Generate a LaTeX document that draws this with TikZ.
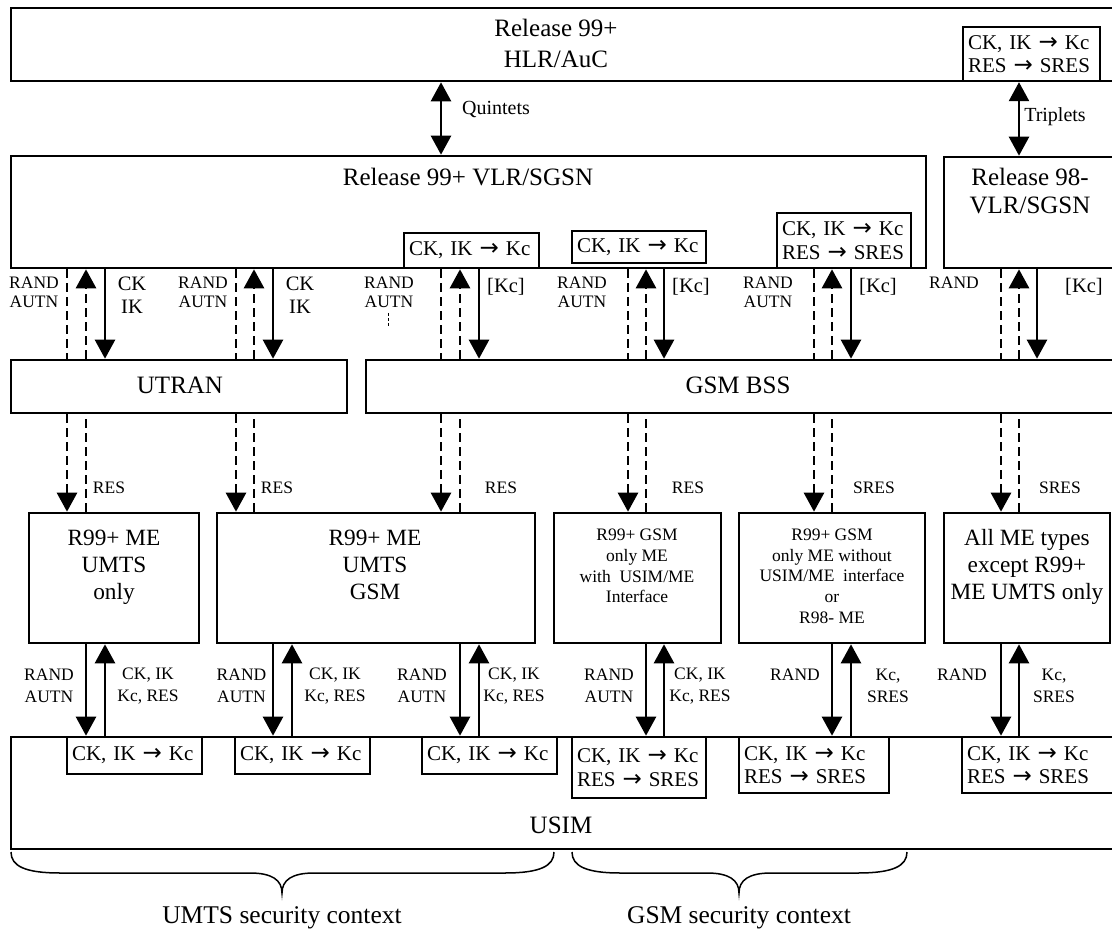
\documentclass[tikz,border=0pt]{standalone}
\usepackage{fontspec}
\setmainfont{Liberation Serif}
\newfontfamily\myarrowfont{DejaVu Sans}
\newcommand\myarr{{\myarrowfont\fontsize{23}{23}\selectfont →}}
\usetikzlibrary{arrows.meta}
\begin{document}
\begin{tikzpicture}[x=1pt,y=-1pt,
  box/.style={draw, line width=2.6pt, inner sep=0pt},
  sbox/.style={draw, line width=2.4pt, inner sep=5pt, align=left, font=\fontsize{21}{23.5}\selectfont},
  big/.style={inner sep=0pt, align=center, font=\fontsize{25}{31}\selectfont},
  metxt/.style={inner sep=0pt, align=center, font=\fontsize{23.3}{27}\selectfont},
  smtxt/.style={inner sep=0pt, align=center, font=\fontsize{17.5}{20.7}\selectfont},
  lab/.style={inner sep=0pt, align=center, font=\fontsize{17.5}{19}\selectfont},
  blab/.style={inner sep=0pt, align=center, font=\fontsize{17.5}{22}\selectfont},
  mid/.style={inner sep=0pt, align=center, font=\fontsize{20.5}{23}\selectfont},
  tipA/.style={-{Triangle[length=19pt,width=20pt]}},
  sol/.style={line width=2.5pt},
  dsh/.style={line width=2.7pt, dash pattern=on 9pt off 5pt},
  brace/.style={line width=1.5pt}
]
\useasboundingbox (0,0) rectangle (1112,936);

\foreach \x in {67,86,105,236,254,273,292,441,460,479,628,646,664,814,832,851,1001,1019,1037}
  \coordinate (c\x) at (\x,0);

% ---- main boxes (right-hand boxes run past the page edge, as in the reference)
\node[box, minimum width=1114pt, minimum height=73pt] (hlr) at (568,44.5) {};
\node[box, minimum width=915pt, minimum height=112pt] (vlr) at (468.5,212) {};
\node[box, minimum width=181pt, minimum height=111pt] (r98) at (1034.5,212.5) {};
\node[box, minimum width=336pt, minimum height=53pt] (utran) at (179,386.5) {};
\node[box, minimum width=759pt, minimum height=53pt] (bss) at (745.5,386.5) {};
\node[box, minimum width=170pt, minimum height=130pt] (me1) at (114,578) {};
\node[box, minimum width=318pt, minimum height=130pt] (me2) at (376,578) {};
\node[box, minimum width=167pt, minimum height=130pt] (me3) at (637.5,578) {};
\node[box, minimum width=186pt, minimum height=130pt] (me4) at (832,578) {};
\node[box, minimum width=166pt, minimum height=130pt] (me5) at (1027,578) {};
\node[box, minimum width=1114pt, minimum height=112pt] (usim) at (568,793) {};

% ---- small conversion boxes
\node[sbox, text width=127pt, minimum height=54pt] (hlrk) at (1031.5,54) {CK, IK \myarr{} Kc\\RES \myarr{} SRES};
\node[sbox, text width=125pt, minimum height=35pt] (vk1) at (471.5,250.5) {CK, IK \myarr{} Kc};
\node[sbox, text width=124pt, minimum height=32pt] (vk2) at (639,247) {CK, IK \myarr{} Kc};
\node[sbox, text width=124pt, minimum height=55pt] (vk3) at (844,240.5) {CK, IK \myarr{} Kc\\RES \myarr{} SRES};
\node[sbox, text width=125pt, minimum height=37pt] (s1) at (134.5,755.5) {CK, IK \myarr{} Kc};
\node[sbox, text width=125pt, minimum height=37pt] (s2) at (302.5,755.5) {CK, IK \myarr{} Kc};
\node[sbox, text width=125pt, minimum height=37pt] (s3) at (489.5,755.5) {CK, IK \myarr{} Kc};
\node[sbox, text width=124pt, minimum height=61pt] (s4) at (639,767.5) {CK, IK \myarr{} Kc\\RES \myarr{} SRES};
\node[sbox, text width=140pt, minimum height=56pt] (s5) at (814,765) {CK, IK \myarr{} Kc\\RES \myarr{} SRES};
\node[sbox, text width=153pt, minimum height=56pt] (s6) at (1043.5,765) {CK, IK \myarr{} Kc\\RES \myarr{} SRES};

% ---- box texts
\node[big] (thlr) at (556,43) {Release 99+\\HLR/AuC};
\node[big] (tvlr) at (468,177) {Release 99+ VLR/SGSN};
\node[big, font=\fontsize{25}{28}\selectfont] (tr98) at (1030,191) {Release 98-\\VLR/SGSN};
\node[big] (tutran) at (180,385) {UTRAN};
\node[big] (tbss) at (738,385) {GSM BSS};
\node[big] (tusim) at (561,825) {USIM};
\node[metxt] (tme1) at (114,567) {R99+ ME\\UMTS\\only};
\node[metxt] (tme2) at (375,565) {R99+ ME\\UMTS\\GSM};
\node[smtxt] (tme3) at (637,566) {R99+ GSM\\only ME\\with~~USIM/ME\\Interface};
\node[smtxt] (tme4) at (832,576) {R99+ GSM\\only ME without\\USIM/ME~~interface\\or\\R98- ME};
\node[metxt] (tme5) at (1027,567) {All ME types\\except R99+\\ME UMTS only};

% ---- HLR links
\draw[sol, {Triangle[length=19pt,width=20pt]}-{Triangle[length=19pt,width=20pt]}] (hlr.south -| c441) -- (vlr.north -| c441);
\node[mid, font=\fontsize{20}{23}\selectfont] (lq) at (496,110) {Quintets};
\draw[sol, {Triangle[length=19pt,width=20pt]}-{Triangle[length=19pt,width=20pt]}] (hlrk.south -| c1019) -- (r98.north -| c1019);
\node[mid, font=\fontsize{20}{23}\selectfont] (lt) at (1055,117) {Triplets};

% ---- VLR -> access network
\draw[dsh] (vlr.south -| c67) -- (utran.north -| c67);
\draw[dsh, tipA] (utran.north -| c86) -- (vlr.south -| c86);
\draw[sol, tipA] (vlr.south -| c105) -- (utran.north -| c105);
\draw[dsh] (vlr.south -| c236) -- (utran.north -| c236);
\draw[dsh, tipA] (utran.north -| c254) -- (vlr.south -| c254);
\draw[sol, tipA] (vlr.south -| c273) -- (utran.north -| c273);
\draw[dsh] (vlr.south -| c441) -- (bss.north -| c441);
\draw[dsh, tipA] (bss.north -| c460) -- (vlr.south -| c460);
\draw[sol, tipA] (vlr.south -| c479) -- (bss.north -| c479);
\draw[dsh] (vlr.south -| c628) -- (bss.north -| c628);
\draw[dsh, tipA] (bss.north -| c646) -- (vlr.south -| c646);
\draw[sol, tipA] (vlr.south -| c664) -- (bss.north -| c664);
\draw[dsh] (vlr.south -| c814) -- (bss.north -| c814);
\draw[dsh, tipA] (bss.north -| c832) -- (vlr.south -| c832);
\draw[sol, tipA] (vlr.south -| c851) -- (bss.north -| c851);
\draw[dsh] (r98.south -| c1001) -- (bss.north -| c1001);
\draw[dsh, tipA] (bss.north -| c1019) -- (r98.south -| c1019);
\draw[sol, tipA] (r98.south -| c1037) -- (bss.north -| c1037);
\draw[line width=0.8pt, dash pattern=on 3pt off 2pt] (388,313) -- (388,327);

\node[lab] (la1) at (34,292) {RAND\\AUTN};
\node[mid] (lb1) at (132,295) {CK\\IK};
\node[lab] (la2) at (203,292) {RAND\\AUTN};
\node[mid] (lb2) at (300,295) {CK\\IK};
\node[lab] (la3) at (389,292) {RAND\\AUTN};
\node[mid] (lb3) at (506,287) {[Kc]};
\node[lab] (la4) at (582,292) {RAND\\AUTN};
\node[mid] (lb4) at (691,287) {[Kc]};
\node[lab] (la5) at (768,292) {RAND\\AUTN};
\node[mid] (lb5) at (878,287) {[Kc]};
\node[lab] (la6) at (954,283) {RAND};
\node[mid] (lb6) at (1084,287) {[Kc]};

% ---- access network -> ME
\draw[dsh, tipA] (utran.south -| c67) -- (me1.north -| c67);
\draw[dsh] (me1.north -| c86) -- (utran.south -| c86);
\draw[dsh, tipA] (utran.south -| c236) -- (me2.north -| c236);
\draw[dsh] (me2.north -| c254) -- (utran.south -| c254);
\draw[dsh, tipA] (bss.south -| c441) -- (me2.north -| c441);
\draw[dsh] (me2.north -| c460) -- (bss.south -| c460);
\draw[dsh, tipA] (bss.south -| c628) -- (me3.north -| c628);
\draw[dsh] (me3.north -| c646) -- (bss.south -| c646);
\draw[dsh, tipA] (bss.south -| c814) -- (me4.north -| c814);
\draw[dsh] (me4.north -| c832) -- (bss.south -| c832);
\draw[dsh, tipA] (bss.south -| c1001) -- (me5.north -| c1001);
\draw[dsh] (me5.north -| c1019) -- (bss.south -| c1019);

\node[lab] (lr1) at (109,488) {RES};
\node[lab] (lr2) at (277,488) {RES};
\node[lab] (lr3) at (501,488) {RES};
\node[lab] (lr4) at (688,488) {RES};
\node[lab] (lr5) at (874,488) {SRES};
\node[lab] (lr6) at (1060,488) {SRES};

% ---- ME -> USIM
\draw[sol, tipA] (me1.south -| c86) -- (usim.north -| c86);
\draw[sol, tipA] (usim.north -| c105) -- (me1.south -| c105);
\draw[sol, tipA] (me2.south -| c273) -- (usim.north -| c273);
\draw[sol, tipA] (usim.north -| c292) -- (me2.south -| c292);
\draw[sol, tipA] (me2.south -| c460) -- (usim.north -| c460);
\draw[sol, tipA] (usim.north -| c479) -- (me2.south -| c479);
\draw[sol, tipA] (me3.south -| c646) -- (usim.north -| c646);
\draw[sol, tipA] (usim.north -| c664) -- (me3.south -| c664);
\draw[sol, tipA] (me4.south -| c832) -- (usim.north -| c832);
\draw[sol, tipA] (usim.north -| c851) -- (me4.south -| c851);
\draw[sol, tipA] (me5.south -| c1001) -- (usim.north -| c1001);
\draw[sol, tipA] (usim.north -| c1019) -- (me5.south -| c1019);

\node[blab] (lu1) at (49,686) {RAND\\AUTN};
\node[blab] (lv1) at (148,686) {CK, IK\\Kc, RES};
\node[blab] (lu2) at (241.5,686) {RAND\\AUTN};
\node[blab] (lv2) at (335,686) {CK, IK\\Kc, RES};
\node[blab] (lu3) at (422,686) {RAND\\AUTN};
\node[blab] (lv3) at (514,686) {CK, IK\\Kc, RES};
\node[blab] (lu4) at (609,686) {RAND\\AUTN};
\node[blab] (lv4) at (700,686) {CK, IK\\Kc, RES};
\node[blab] (lu5) at (795,675) {RAND};
\node[blab] (lv5) at (888,686) {Kc,\\SRES};
\node[blab] (lu6) at (962,675) {RAND};
\node[blab] (lv6) at (1054,686) {Kc,\\SRES};

% ---- braces
\draw[brace] (11,852) .. controls (11,866) and (25,873) .. (60,873) -- (250,873)
  .. controls (272,873) and (282,880) .. (282,893)
  .. controls (282,880) and (292,873) .. (314,873) -- (505,873)
  .. controls (540,873) and (554,866) .. (554,852);
\draw[brace] (572,852) .. controls (572,866) and (586,873) .. (620,873) -- (707,873)
  .. controls (729,873) and (739,880) .. (739,893)
  .. controls (739,880) and (749,873) .. (771,873) -- (858,873)
  .. controls (893,873) and (907,866) .. (907,852);
\node[big, font=\fontsize{25.5}{30}\selectfont] (ctx1) at (282,918) {UMTS security context};
\node[big, font=\fontsize{25.5}{30}\selectfont] (ctx2) at (739,918) {GSM security context};
\end{tikzpicture}
\end{document}
